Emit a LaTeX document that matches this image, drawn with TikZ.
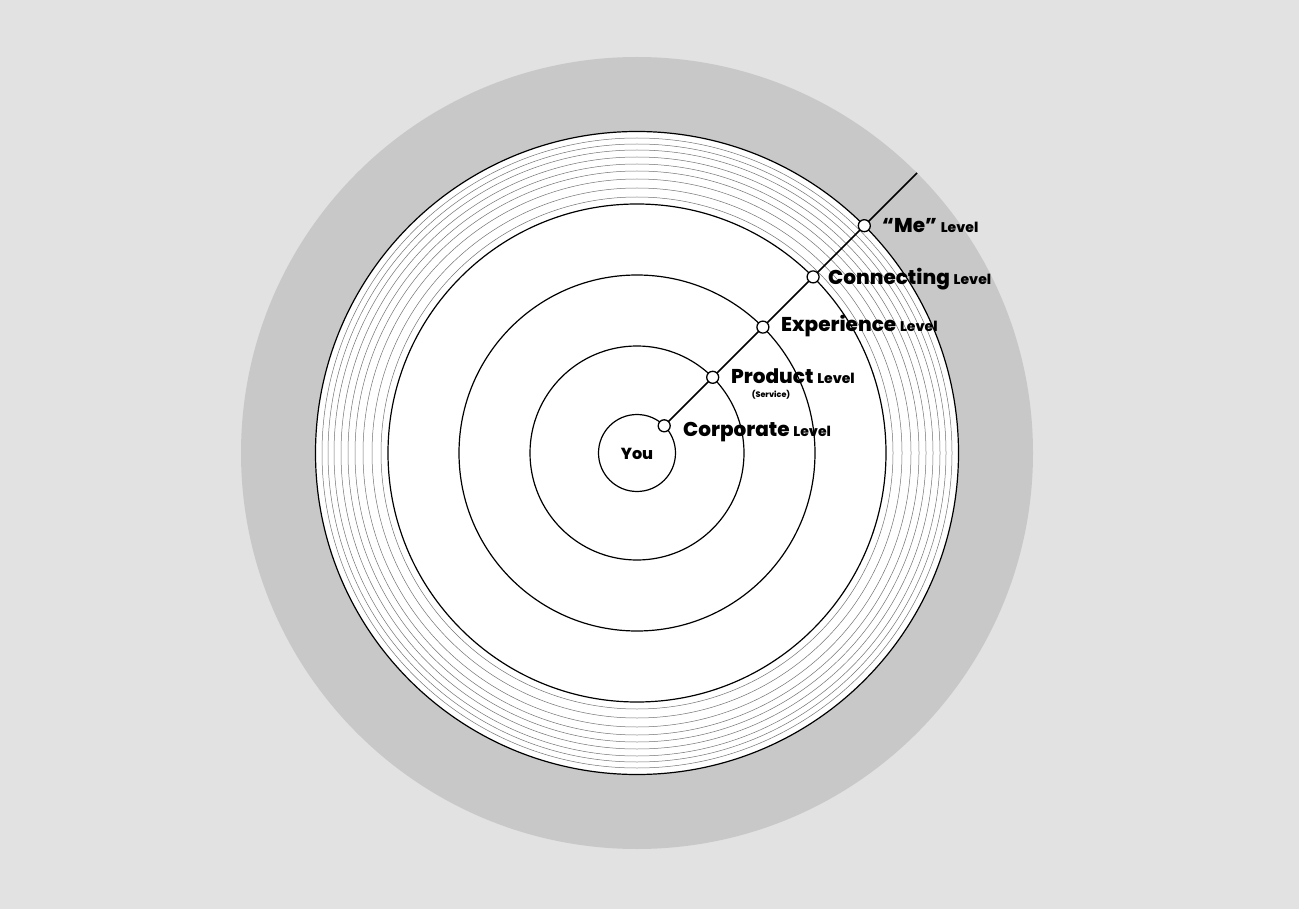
\documentclass[tikz,border=0pt]{standalone}
\usepackage{fontspec}
\setmainfont{Poppins}[BoldFont={Poppins ExtraBold}]
\definecolor{bgc}{RGB}{226,226,226}
\definecolor{ringc}{RGB}{200,200,200}
\newcommand{\lvltxt}[1]{{\fontsize{14}{14}\selectfont #1}}
\begin{document}
\begin{tikzpicture}[x=1pt,y=-1pt,
  thickring/.style={draw=black,line width=1.2pt},
  thinring/.style={draw=black!55,line width=0.5pt},
  dot/.style={circle,draw=black,fill=white,line width=1.3pt,minimum size=12pt,inner sep=0pt},
  lab/.style={anchor=base west,inner sep=0pt,font=\bfseries\fontsize{20}{20}\selectfont}]
\fill[bgc] (0,0) rectangle (1299,909);
\useasboundingbox (0,0) rectangle (1299,909);
\coordinate (c) at (637,453);
\fill[ringc] (c) circle[radius=396];
\filldraw[fill=white,thickring] (c) circle[radius=321.5];
\foreach \r in {256,265,274,282,289,296,303,309,315}
  \draw[thinring] (c) circle[radius=\r];
\draw[thickring] (c) circle[radius=249];
\draw[thickring] (c) circle[radius=178];
\draw[thickring] (c) circle[radius=107];
\draw[thickring] (c) circle[radius=38.5];
\node[font=\bfseries\fontsize{16}{16}\selectfont] (you) at (637,454) {You};
\path (c) + (27.2,-27.2) coordinate (p1)
      (c) + (75.7,-75.7) coordinate (p2)
      (c) + (125.9,-125.9) coordinate (p3)
      (c) + (176.1,-176.1) coordinate (p4)
      (c) + (227.3,-227.3) coordinate (p5)
      (c) + (280,-280) coordinate (pe);
\draw[line width=1.5pt] (p1) -- (pe);
\node[dot] (d1) at (p1) {};
\node[dot] (d2) at (p2) {};
\node[dot] (d3) at (p3) {};
\node[dot] (d4) at (p4) {};
\node[dot] (d5) at (p5) {};
\node[lab] (l1) at (683,436) {Corporate \lvltxt{Level}};
\node[lab] (l2) at (731,384) {Product \lvltxt{Level}};
\node[anchor=base,inner sep=0pt,font=\bfseries\fontsize{8}{8}\selectfont] (l2s) at (771,397) {(Service)};
\node[lab] (l3) at (781,332) {Experience \lvltxt{Level}};
\node[lab] (l4) at (828,285) {Connecting \lvltxt{Level}};
\node[lab] (l5) at (882,233) {“Me” \lvltxt{Level}};
\end{tikzpicture}
\end{document}
